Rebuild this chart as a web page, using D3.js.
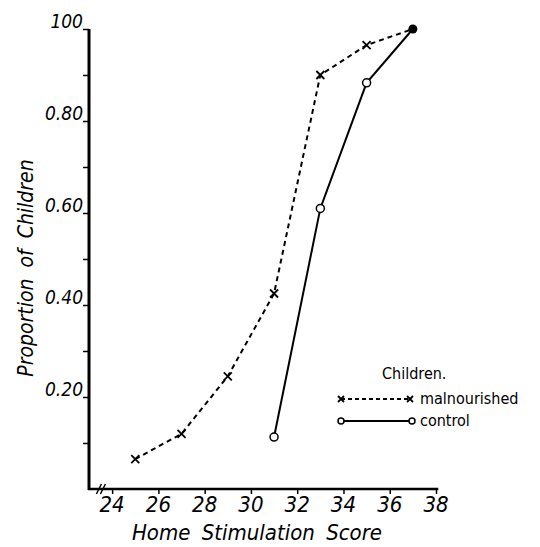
<!DOCTYPE html>
<html>
<head>
<meta charset="utf-8">
<script src="https://cdn.jsdelivr.net/npm/d3@7"></script>
<style>
  html, body { margin: 0; padding: 0; background: #fff; }
  svg { display: block; }
  .lbl { font-family: "DejaVu Sans Condensed", "DejaVu Sans", sans-serif; font-style: italic; fill: #000; }
  .leg { font-family: "DejaVu Sans Condensed", "DejaVu Sans", sans-serif; fill: #000; }
</style>
</head>
<body>
<svg id="chart" width="540" height="547"></svg>
<script>
// Home stimulation score (x) and cumulative proportion of children (y)
const scores = [25, 27, 29, 31, 33, 35, 37];
const malnourished = [0.065, 0.12, 0.245, 0.425, 0.90, 0.965, 1.00];
const controlScores = [31, 33, 35, 37];
const control = [0.113, 0.61, 0.883, 1.00];

const xTicks = [24, 26, 28, 30, 32, 34, 36, 38];
const yTicks = [0.1, 0.2, 0.3, 0.4, 0.5, 0.6, 0.7, 0.8, 0.9, 1.0];
const yTickLabels = {0.2: "0.20", 0.4: "0.40", 0.6: "0.60", 0.8: "0.80", 1.0: "100"};

const svg = d3.select("#chart");

const x = d3.scaleLinear().domain([23, 38]).range([89, 436]);
const y = d3.scaleLinear().domain([0, 1]).range([489, 29]);

// axes
const axisG = svg.append("g");
axisG.append("line")
  .attr("x1", x(23)).attr("x2", x(23))
  .attr("y1", y(1)).attr("y2", y(0) + 1)
  .attr("stroke", "#000").attr("stroke-width", 3);
axisG.append("line")
  .attr("x1", x(23) - 1).attr("x2", x(38.1))
  .attr("y1", y(0)).attr("y2", y(0))
  .attr("stroke", "#000").attr("stroke-width", 2.5);

// y ticks on the left
const yAxis = d3.axisLeft(y).tickValues(yTicks).tickSize(6).tickFormat(() => "");
const gy = svg.append("g").attr("transform", `translate(${x(23)},0)`).call(yAxis);
gy.select(".domain").remove();
gy.selectAll(".tick line").attr("stroke", "#000").attr("stroke-width", 1.5);

svg.append("g").selectAll("text")
  .data(yTicks.filter(v => yTickLabels[v]))
  .join("text")
  .attr("class", "lbl")
  .attr("x", x(23) - 6)
  .attr("y", d => y(d) - 1)
  .attr("text-anchor", "end")
  .attr("font-size", 19)
  .text(d => yTickLabels[d]);

// x ticks below the axis
const xAxis = d3.axisBottom(x).tickValues(xTicks).tickSize(5).tickFormat(() => "");
const gx = svg.append("g").attr("transform", `translate(0,${y(0)})`).call(xAxis);
gx.select(".domain").remove();
gx.selectAll(".tick line").attr("stroke", "#000").attr("stroke-width", 1.5);

svg.append("g").selectAll("text")
  .data(xTicks)
  .join("text")
  .attr("class", "lbl")
  .attr("x", d => x(d))
  .attr("y", 512)
  .attr("text-anchor", "middle")
  .attr("font-size", 22)
  .text(d => d);

// axis break marks
const brk = svg.append("g").attr("stroke", "#000").attr("stroke-width", 1.5);
[0, 4].forEach(o => {
  brk.append("line")
    .attr("x1", x(23.45) + o - 3).attr("y1", y(0) + 5)
    .attr("x2", x(23.45) + o + 2).attr("y2", y(0) - 5);
});

// axis titles
svg.append("text")
  .attr("class", "lbl")
  .attr("x", 257).attr("y", 540)
  .attr("text-anchor", "middle")
  .attr("font-size", 22)
  .attr("word-spacing", 5)
  .text("Home Stimulation Score");

svg.append("text")
  .attr("class", "lbl")
  .attr("transform", "translate(33,268) rotate(-90)")
  .attr("text-anchor", "middle")
  .attr("font-size", 21)
  .attr("word-spacing", 5)
  .text("Proportion of Children");

// series lines
const line = d3.line().x(d => x(d[0])).y(d => y(d[1]));
const malPts = scores.map((s, i) => [s, malnourished[i]]);
const ctlPts = controlScores.map((s, i) => [s, control[i]]);

svg.append("path")
  .datum(malPts)
  .attr("d", line)
  .attr("fill", "none")
  .attr("stroke", "#000")
  .attr("stroke-width", 2)
  .attr("stroke-dasharray", "5,4");

svg.append("path")
  .datum(ctlPts)
  .attr("d", line)
  .attr("fill", "none")
  .attr("stroke", "#000")
  .attr("stroke-width", 2);

// markers
function cross(g, cx, cy, s) {
  g.append("path")
    .attr("d", `M${cx - s},${cy - s}L${cx + s},${cy + s}M${cx - s},${cy + s}L${cx + s},${cy - s}`)
    .attr("stroke", "#000").attr("stroke-width", 1.8).attr("fill", "none");
}
const mk = svg.append("g");
malPts.slice(0, -1).forEach(p => cross(mk, x(p[0]), y(p[1]), 4));
ctlPts.slice(0, -1).forEach(p => {
  mk.append("circle")
    .attr("cx", x(p[0])).attr("cy", y(p[1])).attr("r", 4)
    .attr("fill", "#fff").attr("stroke", "#000").attr("stroke-width", 1.5);
});
// both series meet at the last score
mk.append("circle")
  .attr("cx", x(37)).attr("cy", y(1)).attr("r", 4.5)
  .attr("fill", "#000");

// legend
const leg = svg.append("g");
leg.append("text").attr("class", "leg")
  .attr("x", 382).attr("y", 379).attr("font-size", 16)
  .text("Children.");
leg.append("line")
  .attr("x1", 341).attr("x2", 408).attr("y1", 399).attr("y2", 399)
  .attr("stroke", "#000").attr("stroke-width", 1.8).attr("stroke-dasharray", "4,3");
cross(leg, 341, 399, 3);
cross(leg, 410, 399, 3);
leg.append("text").attr("class", "leg")
  .attr("x", 420).attr("y", 404).attr("font-size", 16)
  .text("malnourished");
leg.append("line")
  .attr("x1", 341).attr("x2", 412).attr("y1", 421).attr("y2", 421)
  .attr("stroke", "#000").attr("stroke-width", 1.8);
[341, 412].forEach(cx => leg.append("circle")
  .attr("cx", cx).attr("cy", 421).attr("r", 3)
  .attr("fill", "#fff").attr("stroke", "#000").attr("stroke-width", 1.5));
leg.append("text").attr("class", "leg")
  .attr("x", 420).attr("y", 426).attr("font-size", 16)
  .text("control");
</script>
</body>
</html>
